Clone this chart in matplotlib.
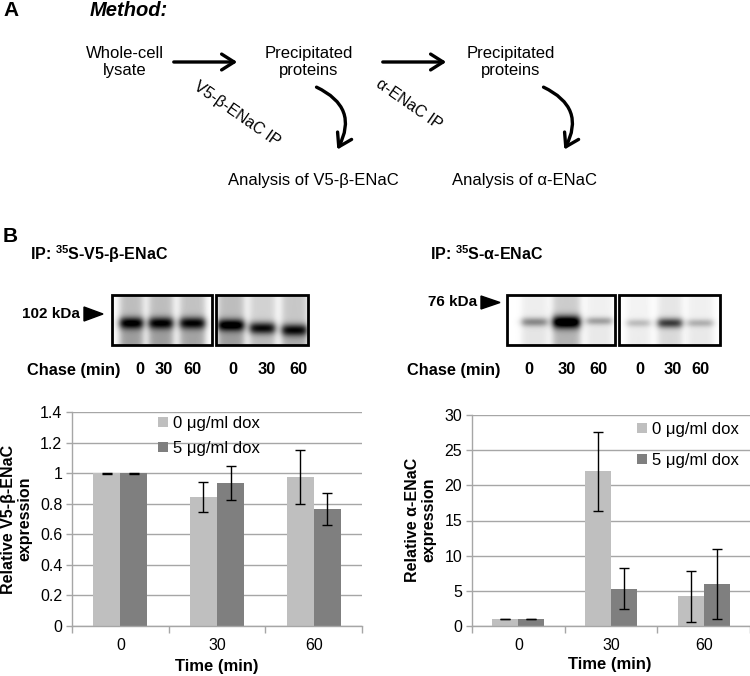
import numpy as np
import matplotlib
matplotlib.use("Agg")
import matplotlib.pyplot as plt
from matplotlib.patches import FancyArrowPatch, Rectangle, Polygon
from matplotlib.ticker import FuncFormatter

plt.rcParams["font.family"] = ["Liberation Sans", "DejaVu Sans"]
plt.rcParams["mathtext.fontset"] = "custom"
plt.rcParams["mathtext.rm"] = "Liberation Sans"
plt.rcParams["mathtext.bf"] = "Liberation Sans:bold"

W_PX, H_PX = 750, 676

# ---- bar chart data -------------------------------------------------------
times = ["0", "30", "60"]
series = ["0 μg/ml dox", "5 μg/ml dox"]
beta_0dox = [1.0, 0.845, 0.975]
beta_0dox_err = [0.003, 0.097, 0.175]
beta_5dox = [1.0, 0.935, 0.765]
beta_5dox_err = [0.003, 0.11, 0.105]
alpha_0dox = [1.0, 22.0, 4.2]
alpha_0dox_err = [0.05, 5.6, 3.6]
alpha_5dox = [1.0, 5.3, 6.0]
alpha_5dox_err = [0.05, 2.9, 5.0]

# ---- gel lane signal (0 = blank, 1 = black), per gel / per lane -----------
chase_labels = ["0", "30", "60"]
beta_band = [[0.75, 0.72, 0.72], [0.8, 0.75, 0.72]]
beta_smear = [[0.26, 0.26, 0.24], [0.26, 0.18, 0.22]]
alpha_band = [[0.38, 0.95, 0.30], [0.20, 0.65, 0.24]]
alpha_smear = [[0.07, 0.20, 0.06], [0.05, 0.10, 0.06]]

LIGHT, DARK = "#bfbfbf", "#7f7f7f"
GRID = "#a6a6a6"

fig = plt.figure(figsize=(7.5, 6.76), dpi=100)
cv = fig.add_axes([0, 0, 1, 1])
cv.set_axis_off()


def draw_gel(box, lanes, band_y, smear, band, band_h):
    x0, x1, y0, y1 = box
    xs = np.arange(int(x1 - x0)) + x0 + 0.5
    ys = np.arange(int(y1 - y0)) + y0 + 0.5
    dark = np.zeros((len(ys), len(xs)))
    for (lx0, lx1), by, s, b, bh in zip(lanes, band_y, smear, band, band_h):
        hx = 1 / (1 + np.exp(-(xs - lx0) / 2.0)) / (1 + np.exp((xs - lx1) / 2.0))
        below = 1 / (1 + np.exp(-(ys - by) / 3.0))
        vy = s * (1 + 0.5 * below) + b * np.exp(-((ys - by) / bh) ** 2)
        dark += np.outer(vy, hx)
    cv.imshow(1 - np.clip(dark, 0, 1), cmap="gray", vmin=0, vmax=1,
              extent=(x0, x1, y1, y0), interpolation="bilinear",
              aspect="auto", zorder=1)
    cv.add_patch(Rectangle((x0, y0), x1 - x0, y1 - y0, fill=False,
                           lw=2, ec="black", zorder=2))


def arrow(p0, p1, rad=0.0):
    cv.add_patch(FancyArrowPatch(
        p0, p1, connectionstyle=f"arc3,rad={rad}",
        arrowstyle="->,head_length=0.6,head_width=0.38",
        mutation_scale=15, lw=2.4, color="black", zorder=3))


# ---- panel A: method diagram ---------------------------------------------
cv.text(3, 11, "A", fontsize=15, fontweight="bold", va="center")
cv.text(90, 10, "Method:", fontsize=14.5, fontweight="bold", style="italic",
        va="center")
cv.text(125, 62, "Whole-cell\nlysate", fontsize=12, ha="center", va="center",
        linespacing=1.15)
cv.text(309, 62, "Precipitated\nproteins", fontsize=12, ha="center",
        va="center", linespacing=1.15)
cv.text(511, 62, "Precipitated\nproteins", fontsize=12, ha="center",
        va="center", linespacing=1.15)
arrow((171, 62), (240, 62))
arrow((380, 62), (449, 62))
cv.text(237, 114, "V5-β-ENaC IP", fontsize=11.5, rotation=-35,
        rotation_mode="anchor", ha="center", va="center")
cv.text(409, 104, "α-ENaC IP", fontsize=11.5, rotation=-35,
        rotation_mode="anchor", ha="center", va="center")
arrow((314, 86), (336, 152), rad=-0.55)
arrow((541, 86), (563, 152), rad=-0.55)
cv.text(313, 180, "Analysis of V5-β-ENaC", fontsize=12, ha="center",
        va="center")
cv.text(524, 180, "Analysis of α-ENaC", fontsize=12, ha="center",
        va="center")

# ---- panel B: gels -------------------------------------------------------
cv.text(3, 236, "B", fontsize=15, fontweight="bold", va="center")
cv.text(30, 254, r"IP: $^{\mathbf{35}}$S-V5-β-ENaC", fontsize=11.5,
        fontweight="bold", va="center")
cv.text(430, 254, r"IP: $^{\mathbf{35}}$S-α-ENaC", fontsize=11.5,
        fontweight="bold", va="center")

cv.text(22, 314, "102 kDa", fontsize=11, fontweight="bold", va="center")
cv.add_patch(Polygon([(84, 307), (84, 321), (103, 314)], color="black"))
cv.text(428, 302, "76 kDa", fontsize=11, fontweight="bold", va="center")
cv.add_patch(Polygon([(481, 296), (481, 309), (500, 302.5)], color="black"))

draw_gel((112, 212, 295, 345), [(120, 143), (149, 173), (180, 205)],
         [323, 323, 323], beta_smear[0], beta_band[0], [6, 6, 6])
draw_gel((216, 308, 295, 345), [(218, 244), (250, 275), (282, 307)],
         [325, 328, 330], beta_smear[1], beta_band[1], [6, 6, 6])
draw_gel((507, 615, 295, 345), [(522, 547), (553, 580), (587, 612)],
         [322, 322, 321], alpha_smear[0], alpha_band[0], [4.5, 6.5, 4])
draw_gel((619, 720, 295, 345), [(627, 650), (658, 682), (688, 713)],
         [323, 323, 323], alpha_smear[1], alpha_band[1], [4, 5, 4])

cv.text(27, 370, "Chase (min)", fontsize=11.8, fontweight="bold", va="center")
for x, lab in zip([140, 164, 192, 233, 267, 298], chase_labels * 2):
    cv.text(x, 370, lab, fontsize=11.8, fontweight="bold", ha="center",
            va="center")
cv.text(407, 370, "Chase (min)", fontsize=11.8, fontweight="bold", va="center")
for x, lab in zip([529, 567, 598, 640, 673, 700], chase_labels * 2):
    cv.text(x, 370, lab, fontsize=11.8, fontweight="bold", ha="center",
            va="center")

cv.set_xlim(0, W_PX)
cv.set_ylim(H_PX, 0)


# ---- bar charts ----------------------------------------------------------
def bar_panel(x0, x1, ytop, ybot, ymax, ystep, v0, e0, v5, e5):
    ax = fig.add_axes([x0 / W_PX, 1 - ybot / H_PX, (x1 - x0) / W_PX,
                       (ybot - ytop) / H_PX])
    x = np.arange(len(times))
    w = 0.28
    ax.bar(x - w / 2, v0, w, color=LIGHT, label=series[0], zorder=2)
    ax.bar(x + w / 2, v5, w, color=DARK, label=series[1], zorder=2)
    ax.errorbar(x - w / 2, v0, yerr=e0, fmt="none", ecolor="black",
                elinewidth=1, capsize=3.5, capthick=1, zorder=3)
    ax.errorbar(x + w / 2, v5, yerr=e5, fmt="none", ecolor="black",
                elinewidth=1, capsize=3.5, capthick=1, zorder=3)
    ax.set_xlim(-0.5, len(times) - 0.5)
    ax.set_ylim(0, ymax)
    ax.set_yticks(np.arange(0, ymax + ystep / 2, ystep))
    ax.yaxis.set_major_formatter(FuncFormatter(lambda v, _: f"{v:g}"))
    ax.set_xticks(x)
    ax.set_xticklabels(times)
    ax.set_xticks(np.arange(-0.5, len(times)), minor=True)
    ax.tick_params(axis="x", which="major", length=0, pad=9, labelsize=11.5)
    ax.tick_params(axis="x", which="minor", length=5, color=GRID, width=1)
    ax.tick_params(axis="y", length=4, color=GRID, width=1, pad=3,
                   labelsize=11.5)
    ax.grid(axis="y", color=GRID, lw=1, zorder=0)
    for side in ("top", "right"):
        ax.spines[side].set_visible(False)
    for side in ("left", "bottom"):
        ax.spines[side].set_color(GRID)
        ax.spines[side].set_linewidth(1)
    return ax


ax1 = bar_panel(72, 362, 412, 626, 1.4, 0.2, beta_0dox, beta_0dox_err,
                beta_5dox, beta_5dox_err)
ax1.legend(loc="upper left", bbox_to_anchor=(158 / W_PX, 1 - 416 / H_PX),
           bbox_transform=fig.transFigure, frameon=False, fontsize=12,
           handlelength=0.6, handleheight=0.6, handletextpad=0.3,
           labelspacing=0.6, borderpad=0, borderaxespad=0)
ax2 = bar_panel(472, 750, 415, 626, 30, 5, alpha_0dox, alpha_0dox_err,
                alpha_5dox, alpha_5dox_err)
ax2.legend(loc="upper left", bbox_to_anchor=(637 / W_PX, 1 - 422 / H_PX),
           bbox_transform=fig.transFigure, frameon=False, fontsize=12,
           handlelength=0.6, handleheight=0.6, handletextpad=0.3,
           labelspacing=0.95, borderpad=0, borderaxespad=0)

fig.text(17 / W_PX, 1 - 519 / H_PX, "Relative V5-β-ENaC\nexpression",
         rotation=90, fontsize=11.5, fontweight="bold", ha="center",
         va="center", multialignment="center", linespacing=1.1)
fig.text(421 / W_PX, 1 - 520 / H_PX, "Relative α-ENaC\nexpression",
         rotation=90, fontsize=11.5, fontweight="bold", ha="center",
         va="center", multialignment="center", linespacing=1.1)
fig.text(217 / W_PX, 1 - 667 / H_PX, "Time (min)", fontsize=12,
         fontweight="bold", ha="center", va="center")
fig.text(610 / W_PX, 1 - 665 / H_PX, "Time (min)", fontsize=12,
         fontweight="bold", ha="center", va="center")

fig.savefig("out.png", dpi=100)
